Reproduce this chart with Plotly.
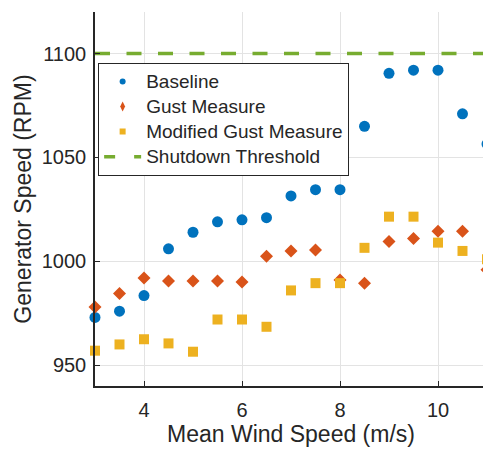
import plotly.graph_objects as go

wind_speed = [3.0, 3.5, 4.0, 4.5, 5.0, 5.5, 6.0, 6.5, 7.0, 7.5, 8.0, 8.5, 9.0, 9.5, 10.0, 10.5, 11.0]
baseline = [973, 976, 983.5, 1006, 1014, 1019, 1020, 1021, 1031.5, 1034.5, 1034.5, 1065, 1090.5, 1092, 1092, 1071, 1056.5]
gust_measure = [978, 984.5, 992, 990.5, 990.5, 990.5, 990, 1002.5, 1005, 1005.5, 991, 989.5, 1009.5, 1011, 1014.5, 1014.5, 996]
modified_gust = [957, 960, 962.5, 960.5, 956.5, 972, 972, 968.5, 986, 989.5, 989.5, 1006.5, 1021.5, 1021.5, 1009, 1005, 1001]
threshold_x = [3, 11]
threshold_y = [1100, 1100]

series_names = ["Baseline", "Gust Measure", "Modified Gust Measure", "Shutdown Threshold"]
x_ticks = [4, 6, 8, 10]
y_ticks = [950, 1000, 1050, 1100]

BLUE = "#0072BD"
ORANGE = "#D95319"
YELLOW = "#EDB120"
GREEN = "#77AC30"
TXT = "#262626"
FONT = "Liberation Sans, Arial, sans-serif"

fig = go.Figure()

fig.add_trace(go.Scatter(x=threshold_x, y=threshold_y, mode="lines",
                         line=dict(color=GREEN, width=3.5, dash="15px,16.5px"),
                         showlegend=False, hoverinfo="skip"))
fig.add_trace(go.Scatter(x=wind_speed, y=baseline, mode="markers", cliponaxis=False,
                         marker=dict(symbol="circle", size=11, color=BLUE),
                         showlegend=False))
fig.add_trace(go.Scatter(x=wind_speed, y=gust_measure, mode="markers", cliponaxis=False,
                         marker=dict(symbol="diamond", size=10, color=ORANGE),
                         showlegend=False))
fig.add_trace(go.Scatter(x=wind_speed, y=modified_gust, mode="markers", cliponaxis=False,
                         marker=dict(symbol="square", size=10, color=YELLOW),
                         showlegend=False))

# legend-only entries with smaller symbols, like the reference legend
def lbl(t):
    return '<span style="font-size:19px">' + t + '</span>'

fig.add_trace(go.Scatter(x=[None], y=[None], mode="markers", name=lbl(series_names[0]),
                         marker=dict(symbol="circle", size=6, color=BLUE)))
fig.add_trace(go.Scatter(x=[None], y=[None], mode="markers", name=lbl(series_names[1]),
                         marker=dict(symbol="diamond-tall", size=7, color=ORANGE)))
fig.add_trace(go.Scatter(x=[None], y=[None], mode="markers", name=lbl(series_names[2]),
                         marker=dict(symbol="square", size=6, color=YELLOW)))
fig.add_trace(go.Scatter(x=[None], y=[None], mode="lines", name=lbl(series_names[3]),
                         line=dict(color=GREEN, width=3.5, dash="11px,19px")))

fig.update_layout(
    width=487, height=452,
    margin=dict(l=95, r=0, t=12, b=66),
    paper_bgcolor="white", plot_bgcolor="white",
    font=dict(family=FONT, color=TXT, size=20),
    showlegend=True,
    legend=dict(x=0.008, y=0.864, xanchor="left", yanchor="top",
                bgcolor="white", bordercolor=TXT, borderwidth=1,
                font=dict(size=17, color=TXT, family=FONT),
                itemwidth=37, tracegroupgap=0),
    xaxis=dict(range=[3, 11], tickvals=x_ticks, ticktext=[str(v) for v in x_ticks],
               showgrid=True, gridcolor="#e3e3e3", gridwidth=1,
               showline=True, linecolor=TXT, linewidth=1.5, mirror=False,
               ticks="inside", ticklen=5, tickcolor=TXT, ticklabelstandoff=5,
               zeroline=False, tickfont=dict(size=20),
               title=dict(text="Mean Wind Speed (m/s)", font=dict(size=23), standoff=5)),
    yaxis=dict(range=[940, 1120], tickvals=y_ticks, ticktext=[str(v) for v in y_ticks],
               showgrid=True, gridcolor="#e3e3e3", gridwidth=1,
               showline=True, linecolor=TXT, linewidth=1.5, mirror=False,
               ticks="inside", ticklen=5, tickcolor=TXT, ticklabelstandoff=3,
               zeroline=False, tickfont=dict(size=20),
               title=dict(text="Generator Speed (RPM)", font=dict(size=23), standoff=4)),
)

fig.write_html("out.html")
